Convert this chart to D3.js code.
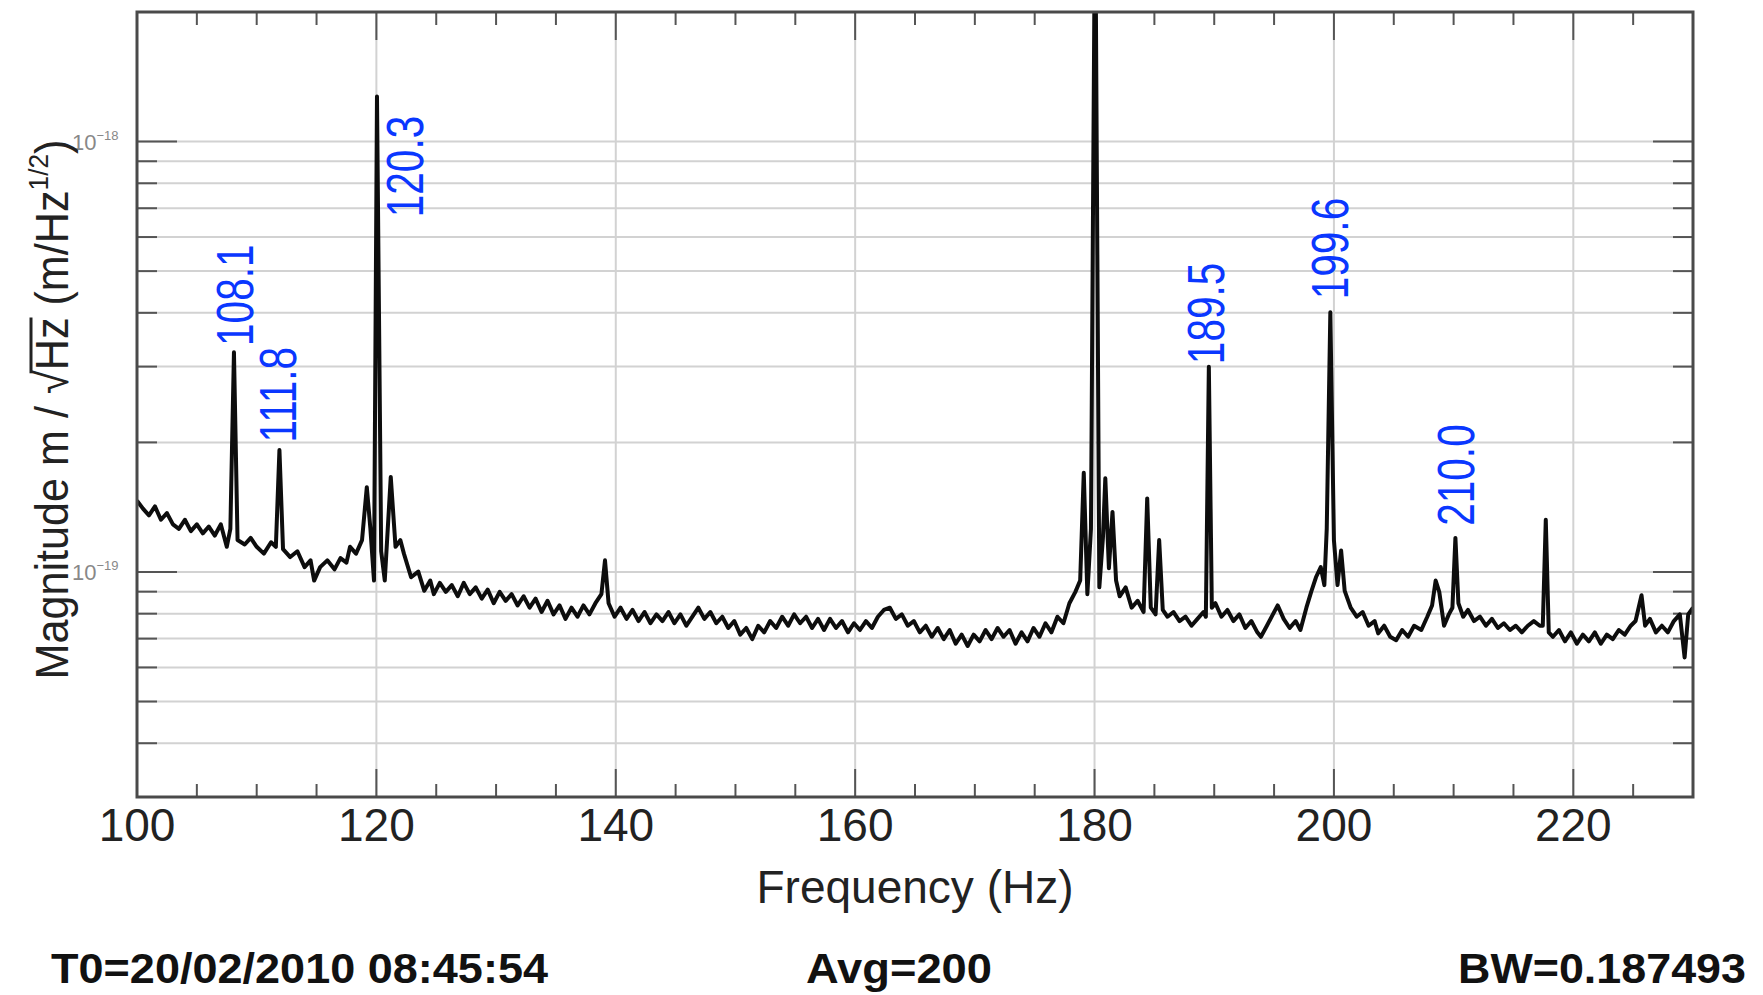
<!DOCTYPE html>
<html>
<head>
<meta charset="utf-8">
<script src="https://cdn.jsdelivr.net/npm/d3@7"></script>
<style>
  html, body { margin: 0; padding: 0; background: #fff; }
  svg { display: block; font-family: "Liberation Sans", Arial, Helvetica, sans-serif; }
</style>
</head>
<body>
<svg id="chart"></svg>
<script>
// x axis (Hz)
const xTicks = [100, 120, 140, 160, 180, 200, 220];
// horizontal grid values (m/sqrt(Hz))
const yGrid = [4e-20, 5e-20, 6e-20, 7e-20, 8e-20, 9e-20,
  1e-19, 2e-19, 3e-19, 4e-19, 5e-19, 6e-19, 7e-19, 8e-19, 9e-19, 1e-18];
const yMajor = [1e-19, 1e-18];
const yMajorExp = ["-19", "-18"];

// spectrum: [frequency Hz, magnitude in units of 1e-19 m/sqrt(Hz)]
const spectrum = [
  [100.0, 1.464], [100.5, 1.403], [101.0, 1.354], [101.5, 1.420], [102.0, 1.322],
  [102.5, 1.370], [103.0, 1.290], [103.5, 1.259], [104.0, 1.322], [104.5, 1.244],
  [105.0, 1.290], [105.5, 1.229], [106.0, 1.275], [106.5, 1.215], [107.0, 1.290],
  [107.5, 1.144], [107.8, 1.259], [108.1, 3.24], [108.4, 1.186], [109.0, 1.158],
  [109.5, 1.200], [110.0, 1.144], [110.6, 1.103], [111.2, 1.172], [111.6, 1.144],
  [111.9, 1.919], [112.2, 1.130], [112.8, 1.083], [113.4, 1.117], [114.0, 1.026],
  [114.5, 1.064], [114.8, 0.955], [115.3, 1.026], [115.9, 1.064], [116.5, 1.014],
  [117.0, 1.077], [117.5, 1.051], [117.8, 1.144], [118.3, 1.103], [118.8, 1.186],
  [119.2, 1.574], [119.5, 1.259], [119.8, 0.955], [120.05, 12.72], [120.4, 1.117],
  [120.7, 0.955], [121.2, 1.662], [121.6, 1.144], [122.0, 1.186], [122.3, 1.103],
  [122.9, 0.972], [123.5, 1.002], [124.0, 0.904], [124.5, 0.955], [124.8, 0.888],
  [125.3, 0.943], [125.8, 0.899], [126.3, 0.932], [126.8, 0.878], [127.3, 0.943],
  [127.8, 0.888], [128.3, 0.921], [128.8, 0.867], [129.3, 0.910], [129.8, 0.846],
  [130.3, 0.899], [130.8, 0.857], [131.3, 0.888], [131.8, 0.836], [132.3, 0.878],
  [132.8, 0.826], [133.3, 0.867], [133.8, 0.807], [134.3, 0.857], [134.8, 0.797],
  [135.3, 0.836], [135.8, 0.778], [136.3, 0.826], [136.8, 0.787], [137.3, 0.836],
  [137.8, 0.797], [138.3, 0.846], [138.8, 0.888], [139.1, 1.064], [139.4, 0.846],
  [139.9, 0.787], [140.4, 0.826], [140.9, 0.778], [141.4, 0.816], [141.9, 0.769],
  [142.4, 0.807], [142.9, 0.760], [143.4, 0.797], [143.9, 0.769], [144.4, 0.807],
  [144.9, 0.760], [145.4, 0.797], [145.9, 0.750], [146.4, 0.787], [146.9, 0.826],
  [147.4, 0.778], [147.9, 0.807], [148.4, 0.760], [148.9, 0.787], [149.4, 0.741],
  [149.9, 0.769], [150.4, 0.715], [150.9, 0.741], [151.4, 0.698], [151.9, 0.750],
  [152.4, 0.724], [152.9, 0.769], [153.4, 0.741], [153.9, 0.787], [154.4, 0.750],
  [154.9, 0.797], [155.4, 0.760], [155.9, 0.787], [156.4, 0.741], [156.9, 0.778],
  [157.4, 0.733], [157.9, 0.778], [158.4, 0.741], [158.9, 0.769], [159.4, 0.724],
  [159.9, 0.760], [160.4, 0.733], [160.9, 0.769], [161.4, 0.741], [161.9, 0.787],
  [162.4, 0.816], [162.9, 0.826], [163.4, 0.778], [163.9, 0.797], [164.4, 0.750],
  [164.9, 0.769], [165.4, 0.724], [165.9, 0.750], [166.4, 0.707], [166.9, 0.741],
  [167.4, 0.698], [167.9, 0.733], [168.4, 0.681], [168.9, 0.715], [169.4, 0.673],
  [169.9, 0.715], [170.4, 0.690], [170.9, 0.733], [171.4, 0.698], [171.9, 0.741],
  [172.4, 0.707], [172.9, 0.733], [173.4, 0.681], [173.9, 0.724], [174.4, 0.690],
  [174.9, 0.741], [175.4, 0.707], [175.9, 0.760], [176.4, 0.724], [176.9, 0.787],
  [177.4, 0.760], [177.9, 0.846], [178.4, 0.899], [178.8, 0.955], [179.1, 1.70],
  [179.4, 0.888], [179.7, 1.259], [180.05, 40], [180.4, 0.921], [180.7, 1.200],
  [180.9, 1.65], [181.2, 1.020], [181.5, 1.379], [181.8, 0.955], [182.1, 0.878],
  [182.6, 0.921], [183.1, 0.826], [183.6, 0.857], [184.1, 0.807], [184.4, 1.482],
  [184.7, 0.826], [185.1, 0.797], [185.4, 1.186], [185.7, 0.816], [186.1, 0.787],
  [186.6, 0.807], [187.1, 0.769], [187.6, 0.787], [188.1, 0.750], [188.6, 0.778],
  [189.1, 0.807], [189.3, 0.787], [189.55, 2.997], [189.8, 0.826], [190.1, 0.846],
  [190.6, 0.787], [191.1, 0.816], [191.6, 0.769], [192.1, 0.797], [192.6, 0.741],
  [193.1, 0.769], [193.6, 0.724], [193.9, 0.707], [194.4, 0.750], [194.9, 0.797],
  [195.3, 0.836], [195.8, 0.778], [196.3, 0.741], [196.8, 0.769], [197.2, 0.733],
  [197.7, 0.826], [198.1, 0.899], [198.5, 0.972], [198.9, 1.026], [199.2, 0.932],
  [199.4, 1.259], [199.7, 4.01], [200.0, 1.186], [200.3, 0.932], [200.6, 1.122],
  [200.9, 0.904], [201.4, 0.826], [201.9, 0.787], [202.4, 0.807], [202.9, 0.750],
  [203.4, 0.769], [203.7, 0.720], [204.2, 0.750], [204.7, 0.707], [205.2, 0.694],
  [205.7, 0.733], [206.2, 0.707], [206.7, 0.750], [207.3, 0.733], [207.8, 0.787],
  [208.2, 0.836], [208.5, 0.955], [208.8, 0.899], [209.2, 0.750], [209.6, 0.797],
  [209.9, 0.826], [210.15, 1.20], [210.4, 0.846], [210.8, 0.787], [211.2, 0.816],
  [211.7, 0.769], [212.2, 0.787], [212.7, 0.750], [213.2, 0.778], [213.7, 0.741],
  [214.2, 0.760], [214.7, 0.733], [215.2, 0.750], [215.7, 0.724], [216.2, 0.750],
  [216.7, 0.769], [217.2, 0.750], [217.45, 0.750], [217.7, 1.322], [217.95, 0.724],
  [218.3, 0.707], [218.8, 0.733], [219.3, 0.690], [219.8, 0.724], [220.3, 0.681],
  [220.8, 0.715], [221.3, 0.690], [221.8, 0.724], [222.3, 0.681], [222.8, 0.715],
  [223.3, 0.698], [223.8, 0.733], [224.3, 0.715], [224.8, 0.750], [225.2, 0.769],
  [225.7, 0.883], [226.0, 0.750], [226.4, 0.778], [226.9, 0.724], [227.4, 0.750],
  [227.9, 0.724], [228.4, 0.769], [228.9, 0.797], [229.3, 0.633], [229.6, 0.797],
  [230.0, 0.826]
];

// annotated peaks
const peakNames = ["108.1", "111.8", "120.3", "189.5", "199.6", "210.0"];
// where each label sits: frequency of its centre, magnitude (1e-19) at its lower end
const labelFreq = [108.1, 111.7, 122.3, 189.2, 199.6, 210.1];
const labelMag = [3.35, 2.0, 6.67, 3.04, 4.3, 1.28];

const footer = ["T0=20/02/2010 08:45:54", "Avg=200", "BW=0.187493"];

const makePlot = () => {
  const size = { width: 1763, height: 995 };
  const margin = { top: 12, bottom: 198, left: 137, right: 70 };

  const svg = d3.select("#chart")
    .attr("width", size.width)
    .attr("height", size.height);
  svg.selectAll("*").remove();

  svg.append("rect")
    .attr("width", size.width).attr("height", size.height)
    .attr("fill", "#fff");

  const x = d3.scaleLinear()
    .domain([100, 230])
    .range([margin.left, size.width - margin.right]);

  const y = d3.scaleLog()
    .domain([3e-20, 2e-18])
    .range([size.height - margin.bottom, margin.top]);

  const x0 = margin.left, x1 = size.width - margin.right;
  const y0 = size.height - margin.bottom, y1 = margin.top;

  // grid
  const grid = svg.append("g");
  xTicks.slice(1).forEach((v) => {
    grid.append("line")
      .attr("x1", x(v)).attr("x2", x(v))
      .attr("y1", y1).attr("y2", y0)
      .attr("stroke", "#d2d2d2").attr("stroke-width", 2);
  });
  yGrid.forEach((v) => {
    grid.append("line")
      .attr("x1", x0).attr("x2", x1)
      .attr("y1", y(v)).attr("y2", y(v))
      .attr("stroke", "#d2d2d2").attr("stroke-width", 2);
  });

  // ticks
  const ticks = svg.append("g").attr("stroke", "#555").attr("stroke-width", 2);
  d3.range(105, 230, 5).forEach((v) => {
    const len = v % 20 === 0 ? 28 : 13;
    ticks.append("line")
      .attr("x1", x(v)).attr("x2", x(v)).attr("y1", y0).attr("y2", y0 - len);
    ticks.append("line")
      .attr("x1", x(v)).attr("x2", x(v)).attr("y1", y1).attr("y2", y1 + len);
  });
  yGrid.forEach((v) => {
    const len = yMajor.includes(v) ? 40 : 20;
    ticks.append("line")
      .attr("x1", x0).attr("x2", x0 + len).attr("y1", y(v)).attr("y2", y(v));
    ticks.append("line")
      .attr("x1", x1 - len).attr("x2", x1).attr("y1", y(v)).attr("y2", y(v));
  });

  // spectrum
  svg.append("clipPath").attr("id", "plotClip")
    .append("rect")
    .attr("x", x0).attr("y", y1)
    .attr("width", x1 - x0).attr("height", y0 - y1);

  const line = d3.line()
    .x((d) => x(d[0]))
    .y((d) => y(d[1] * 1e-19));

  svg.append("path")
    .datum(spectrum)
    .attr("d", line)
    .attr("clip-path", "url(#plotClip)")
    .attr("fill", "none")
    .attr("stroke", "#0d0d0d")
    .attr("stroke-width", 4)
    .attr("stroke-linejoin", "round");

  // frame
  svg.append("rect")
    .attr("x", x0).attr("y", y1)
    .attr("width", x1 - x0).attr("height", y0 - y1)
    .attr("fill", "none")
    .attr("stroke", "#4a4a4a")
    .attr("stroke-width", 3);

  // x tick labels
  xTicks.forEach((v) => {
    svg.append("text")
      .text(v)
      .attr("x", x(v))
      .attr("y", y0 + 44)
      .attr("text-anchor", "middle")
      .attr("font-size", 46)
      .attr("fill", "#222");
  });

  svg.append("text")
    .text("Frequency (Hz)")
    .attr("x", (x0 + x1) / 2)
    .attr("y", y0 + 106)
    .attr("text-anchor", "middle")
    .attr("font-size", 46)
    .attr("fill", "#222");

  // y tick labels 10^-18, 10^-19
  yMajor.forEach((v, i) => {
    const t = svg.append("text")
      .attr("x", 72)
      .attr("y", y(v) + 8)
      .attr("font-size", 22)
      .attr("fill", "#888");
    t.append("tspan").text("10");
    t.append("tspan").attr("font-size", 13).attr("dy", -10).text("\u2212" + yMajorExp[i].slice(1));
  });

  // y axis label
  const yLabG = svg.append("g")
    .attr("transform", `translate(68,${(y0 + y1) / 2 + 5}) rotate(-90)`);
  const yLab = yLabG.append("text")
    .attr("text-anchor", "middle")
    .attr("font-size", 46)
    .attr("fill", "#222");
  yLab.append("tspan").text("Magnitude m / \u221A");
  yLab.append("tspan").text("Hz");
  yLab.append("tspan").text(" (m/Hz");
  yLab.append("tspan").attr("font-size", 28).attr("dy", -20).text("1/2");
  yLab.append("tspan").attr("dy", 20).text(")");
  yLab.attr("textLength", 540).attr("lengthAdjust", "spacingAndGlyphs");
  const node = yLab.node();
  const eR = node.getExtentOfChar(14);
  const eZ = node.getExtentOfChar(16);
  yLabG.append("line")
    .attr("x1", eR.x + eR.width - 3)
    .attr("x2", eZ.x + eZ.width)
    .attr("y1", eR.y + 5)
    .attr("y2", eR.y + 5)
    .attr("stroke", "#222")
    .attr("stroke-width", 3);

  // peak annotations
  peakNames.forEach((t, i) => {
    const px = x(labelFreq[i]);
    const py = y(labelMag[i] * 1e-19);
    const el = svg.append("text")
      .text(t)
      .attr("transform", `translate(${px + 19},${py}) rotate(-90)`)
      .attr("font-size", 52)
      .attr("fill", "#0a37ff");
    const w = el.node().getComputedTextLength();
    el.attr("textLength", w * 0.78).attr("lengthAdjust", "spacingAndGlyphs");
  });

  // footer
  const foot = svg.append("g")
    .attr("font-size", 43)
    .attr("font-weight", "bold")
    .attr("fill", "#111");
  foot.append("text").text(footer[0])
    .attr("x", 51).attr("y", 983)
    .attr("textLength", 497).attr("lengthAdjust", "spacingAndGlyphs");
  foot.append("text").text(footer[1])
    .attr("x", 899).attr("y", 983).attr("text-anchor", "middle")
    .attr("textLength", 186).attr("lengthAdjust", "spacingAndGlyphs");
  foot.append("text").text(footer[2])
    .attr("x", 1746).attr("y", 983).attr("text-anchor", "end")
    .attr("textLength", 288).attr("lengthAdjust", "spacingAndGlyphs");
};

makePlot();
</script>
</body>
</html>
